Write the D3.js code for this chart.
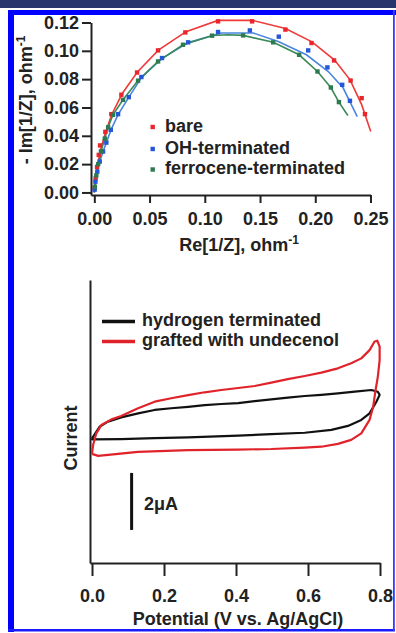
<!DOCTYPE html>
<html>
<head>
<meta charset="utf-8">
<script src="https://cdn.jsdelivr.net/npm/d3@7"></script>
<style>
  body { margin: 0; background: #fff; }
  svg { display: block; font-family: "Liberation Sans", Arial, sans-serif; font-weight: bold; }
  .axis path, .axis line { stroke: #222; stroke-width: 2; }
  .axis text { font-size: 18px; font-weight: bold; fill: #222; }
</style>
</head>
<body>
<div id="chart"></div>
<script>

// ---- admittance plot (top) ----
var nyqSeries = ["bare", "OH-terminated", "ferrocene-terminated"];
var nyqXTicks = [0, 0.05, 0.10, 0.15, 0.20, 0.25];
var nyqYTicks = [0, 0.02, 0.04, 0.06, 0.08, 0.10, 0.12];

var barePoints = [[0.0003,0.003],[0.0012,0.010],[0.0025,0.018],[0.004,0.0265],[0.0052,0.0332],[0.010,0.0428],
    [0.0154,0.0553],[0.0245,0.069],[0.0387,0.0847],[0.0577,0.1003],[0.0824,0.113],[0.112,0.1208],
    [0.1428,0.1208],[0.173,0.115],[0.1966,0.1055],[0.217,0.0932],[0.232,0.079],[0.242,0.0666],[0.245,0.0553]];
var ohPoints = [[0.0003,0.002],[0.001,0.0076],[0.0027,0.0147],[0.0049,0.0218],[0.0079,0.0289],[0.0109,0.0352],
    [0.0149,0.0442],[0.0215,0.0553],[0.0312,0.0673],[0.0426,0.0815],[0.0613,0.0949],[0.0849,0.106],
    [0.112,0.1133],[0.1408,0.1144],[0.167,0.110],[0.1936,0.1003],[0.211,0.0883],[0.2244,0.076],[0.2314,0.0647]];
var fcPoints = [[0.0005,0.004],[0.0018,0.012],[0.0035,0.020],[0.006,0.029],[0.0095,0.038],[0.0125,0.046],
    [0.0169,0.0548],[0.026,0.0654],[0.0396,0.0789],[0.0577,0.0925],[0.0803,0.1043],[0.1066,0.1107],
    [0.1347,0.1109],[0.1619,0.106],[0.1854,0.0972],[0.202,0.0854],[0.2141,0.0741],[0.2214,0.0638]];

var bareFit = [[0,0],[0.001,0.010],[0.003,0.020],[0.006,0.031],[0.010,0.042],[0.0155,0.0545],[0.025,0.0695],
    [0.039,0.085],[0.058,0.1005],[0.083,0.1135],[0.112,0.1215],[0.143,0.1215],[0.173,0.1157],[0.197,0.1063],
    [0.2175,0.0935],[0.2315,0.0795],[0.242,0.062],[0.2502,0.043]];
var ohFit = [[0,0],[0.001,0.008],[0.003,0.016],[0.005,0.022],[0.008,0.029],[0.011,0.0355],[0.015,0.044],
    [0.0215,0.055],[0.031,0.067],[0.0425,0.081],[0.061,0.0945],[0.085,0.1058],[0.115,0.1126],[0.1438,0.1126],
    [0.1665,0.1066],[0.192,0.0972],[0.2118,0.0854],[0.2253,0.0737],[0.238,0.0536]];
var fcFit = [[0,0],[0.002,0.012],[0.006,0.029],[0.0125,0.046],[0.017,0.055],[0.026,0.0655],[0.0396,0.079],
    [0.0577,0.0925],[0.0803,0.1043],[0.107,0.1108],[0.121,0.1114],[0.1347,0.1109],[0.162,0.106],[0.1854,0.0972],
    [0.202,0.0854],[0.2141,0.0741],[0.2214,0.0638],[0.2295,0.0543]];

// ---- cyclic voltammetry (bottom), [V, µA] ----
var cvSeries = ["hydrogen terminated", "grafted with undecenol"];
var cvXTicks = [0, 0.2, 0.4, 0.6, 0.8];

var hydrogenCV = [[0.0,-0.63],[0.021,-0.22],[0.044,-0.04],[0.081,0.11],[0.128,0.25],[0.174,0.37],[0.22,0.43],
    [0.267,0.48],[0.313,0.54],[0.359,0.58],[0.406,0.61],[0.452,0.68],[0.498,0.74],[0.544,0.80],[0.591,0.86],
    [0.637,0.90],[0.683,0.95],[0.73,1.01],[0.776,1.07],[0.794,1.01],[0.799,0.90],[0.79,0.66],[0.771,0.25],
    [0.748,0.02],[0.711,-0.19],[0.665,-0.33],[0.591,-0.43],[0.498,-0.48],[0.406,-0.53],[0.267,-0.59],
    [0.174,-0.62],[0.081,-0.65],[0.0,-0.66],[0.0,-0.63]];
var undecenolCV = [[0.0,-1.17],[0.003,-0.86],[0.012,-0.45],[0.026,-0.16],[0.054,0.04],[0.081,0.16],[0.128,0.43],
    [0.174,0.66],[0.22,0.78],[0.267,0.89],[0.313,0.99],[0.359,1.07],[0.406,1.14],[0.452,1.21],[0.498,1.33],
    [0.544,1.45],[0.591,1.56],[0.637,1.68],[0.683,1.83],[0.72,2.01],[0.748,2.18],[0.771,2.47],[0.785,2.77],
    [0.7925,2.80],[0.799,2.59],[0.799,2.12],[0.794,1.54],[0.787,1.01],[0.781,0.48],[0.771,0.02],[0.748,-0.45],
    [0.72,-0.68],[0.683,-0.82],[0.637,-0.92],[0.591,-0.95],[0.498,-1.0],[0.406,-1.02],[0.267,-1.04],
    [0.128,-1.10],[0.017,-1.24],[0.0,-1.17]];
var scaleBar = [-1.84, -3.84];   // 2 µA

var nyqColors = ["#e8262c", "#2457d8", "#2c7a4e"];
var fitColors = ["#ef3a3a", "#4a86e0", "#3a8a58"];
var cvColors = ["#111111", "#e0232a"];

var svg = d3.select("#chart").append("svg")
    .attr("width", 396)
    .attr("height", 633);

/*
 * frame
 */
svg.append("rect").attr("x", 0).attr("y", 0).attr("width", 396).attr("height", 8).attr("fill", "#28346c");
svg.append("rect").attr("x", 8).attr("y", 10).attr("width", 388).attr("height", 5).attr("fill", "#0000ff");
svg.append("rect").attr("x", 8).attr("y", 10).attr("width", 6).attr("height", 622).attr("fill", "#0000ff");
svg.append("rect").attr("x", 8).attr("y", 629).attr("width", 387).attr("height", 2.5).attr("fill", "#1a1aff");
svg.append("rect").attr("x", 393).attr("y", 10).attr("width", 1.8).attr("height", 621).attr("fill", "#3a3aff");

/*
 * top: -Im vs Re of 1/Z
 */
var x1 = d3.scaleLinear().domain([-0.003, 0.25]).range([91, 370.5]);
var y1 = d3.scaleLinear().domain([-0.0018, 0.12]).range([195, 22.5]);

var g1 = svg.append("g");

g1.append("g")
    .attr("class", "axis")
    .attr("transform", "translate(0,195)")
    .call(d3.axisBottom(x1).tickValues(nyqXTicks).tickSize(8).tickSizeOuter(0).tickPadding(9).tickFormat(d3.format(".2f")));

g1.append("g")
    .attr("class", "axis")
    .attr("transform", "translate(91,0)")
    .call(d3.axisLeft(y1).tickValues(nyqYTicks).tickSize(9).tickSizeOuter(0).tickPadding(3).tickFormat(d3.format(".2f")));

var fitLine = d3.line()
    .x(function(d) { return x1(d[0]); })
    .y(function(d) { return y1(d[1]); });

[bareFit, ohFit, fcFit].forEach(function(fit, i) {
    g1.append("path")
        .attr("d", fitLine(fit))
        .attr("fill", "none")
        .attr("stroke", fitColors[i])
        .attr("stroke-width", 1.6);
});

[barePoints, ohPoints, fcPoints].forEach(function(pts, i) {
    g1.selectAll(".pt" + i)
        .data(pts)
        .enter().append("rect")
        .attr("class", "pt" + i)
        .attr("x", function(d) { return x1(d[0]) - 2.2; })
        .attr("y", function(d) { return y1(d[1]) - 2.2; })
        .attr("width", 4.4)
        .attr("height", 4.4)
        .attr("fill", nyqColors[i]);
});

// legend
var legY1 = [127, 149, 169.5];
nyqSeries.forEach(function(name, i) {
    g1.append("rect")
        .attr("x", 150.5).attr("y", legY1[i] - 2.2)
        .attr("width", 4.4).attr("height", 4.4)
        .attr("fill", nyqColors[i]);
    g1.append("text")
        .attr("x", 165).attr("y", legY1[i] + 4.8)
        .attr("font-size", 18).attr("fill", "#222")
        .text(name);
});

var xl1 = g1.append("text")
    .attr("x", 239).attr("y", 251)
    .attr("text-anchor", "middle")
    .attr("font-size", 18).attr("fill", "#222")
    .text("Re[1/Z], ohm");
xl1.append("tspan").attr("font-size", 12).attr("dy", -7).text("-1");

var yl1 = g1.append("text")
    .attr("transform", "translate(32,100) rotate(-90)")
    .attr("text-anchor", "middle")
    .attr("font-size", 18).attr("fill", "#222")
    .text("- Im[1/Z], ohm");
yl1.append("tspan").attr("font-size", 12).attr("dy", -7).text("-1");

/*
 * bottom: cyclic voltammograms
 */
var x2 = d3.scaleLinear().domain([-0.0056, 0.8]).range([90, 380]);
var y2 = d3.scaleLinear().domain([-5.0, 4.93]).range([563, 280]);

var g2 = svg.append("g");

g2.append("g")
    .attr("class", "axis")
    .attr("transform", "translate(0,563)")
    .call(d3.axisBottom(x2).tickValues(cvXTicks).tickSize(13).tickSizeOuter(0).tickPadding(13).tickFormat(d3.format(".1f")));

g2.append("g")
    .attr("class", "axis")
    .attr("transform", "translate(90,0)")
    .call(d3.axisLeft(y2).tickValues([]).tickSizeOuter(0));

var cvLine = d3.line()
    .x(function(d) { return x2(d[0]); })
    .y(function(d) { return y2(d[1]); });

[hydrogenCV, undecenolCV].forEach(function(cv, i) {
    g2.append("path")
        .attr("d", cvLine(cv))
        .attr("fill", "none")
        .attr("stroke", cvColors[i])
        .attr("stroke-width", 2.2)
        .attr("stroke-linejoin", "round");
});

// scale bar
g2.append("line")
    .attr("x1", x2(0.11)).attr("x2", x2(0.11))
    .attr("y1", y2(scaleBar[0])).attr("y2", y2(scaleBar[1]))
    .attr("stroke", "#111").attr("stroke-width", 3);
g2.append("text")
    .attr("x", 144).attr("y", 509.5)
    .attr("font-size", 18).attr("fill", "#222")
    .text("2μA");

// legend
var legY2 = [321.5, 341.5];
cvSeries.forEach(function(name, i) {
    g2.append("line")
        .attr("x1", 102).attr("x2", 135)
        .attr("y1", legY2[i]).attr("y2", legY2[i])
        .attr("stroke", cvColors[i]).attr("stroke-width", 3.5);
    g2.append("text")
        .attr("x", 142).attr("y", legY2[i] + 4.8)
        .attr("font-size", 18).attr("fill", "#222")
        .text(name);
});

g2.append("text")
    .attr("x", 238).attr("y", 625)
    .attr("text-anchor", "middle")
    .attr("font-size", 18).attr("fill", "#222")
    .text("Potential (V vs. Ag/AgCl)");

g2.append("text")
    .attr("transform", "translate(77,438) rotate(-90)")
    .attr("text-anchor", "middle")
    .attr("font-size", 18).attr("fill", "#222")
    .text("Current");

</script>
</body>
</html>
